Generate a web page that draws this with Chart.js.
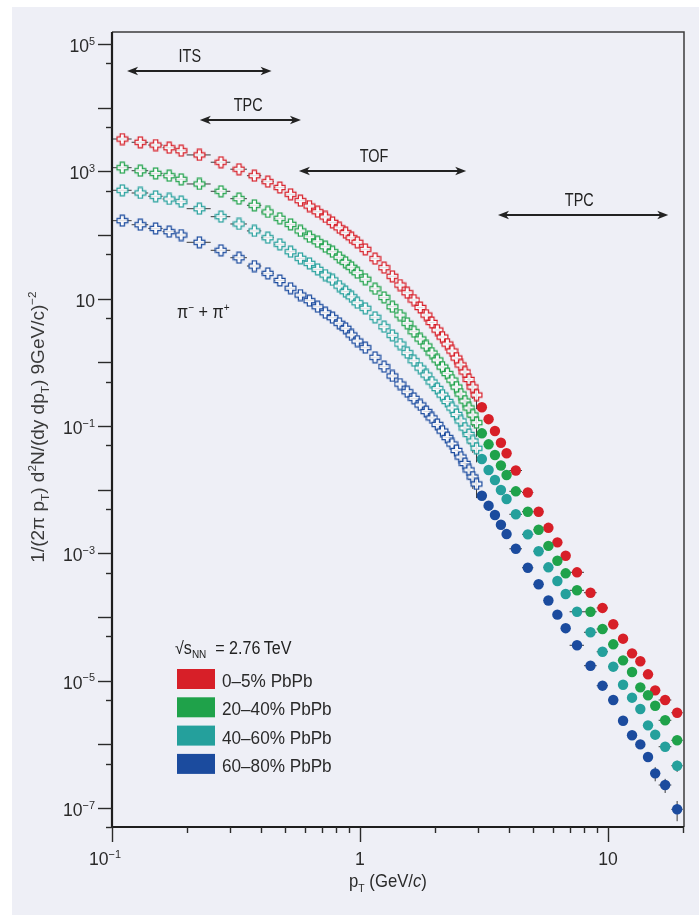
<!DOCTYPE html>
<html>
<head>
<meta charset="utf-8">
<script src="https://cdn.jsdelivr.net/npm/chart.js@4.4.1/dist/chart.umd.min.js"></script>
<style>
body{margin:0;background:#fff}
canvas{display:block}
</style>
</head>
<body>
<canvas id="grafico" width="699" height="915"></canvas>
<script>

/* =========================
DATOS  (pT en GeV/c)
========================= */

// cruces abiertas: ITS / TPC / TOF
const ptCruz = [0.11,0.13,0.15,0.17,0.19,0.225,0.275,0.325,0.375,0.425,0.475,0.525,0.575,0.625,0.675,0.725,0.775,0.825,0.875,0.925,0.975,
1.05,1.15,1.25,1.35,1.45,1.55,1.65,1.75,1.85,1.95,2.05,2.15,2.25,2.35,2.45,2.55,2.65,2.75,2.85,2.95]
const ptCruzMedioAncho = [0.01,0.01,0.01,0.01,0.01,0.025,0.025,0.025,0.025,0.025,0.025,0.025,0.025,0.025,0.025,0.025,0.025,0.025,0.025,0.025,0.025,
0.05,0.05,0.05,0.05,0.05,0.05,0.05,0.05,0.05,0.05,0.05,0.05,0.05,0.05,0.05,0.05,0.05,0.05,0.05,0.05]
const errCruz = [0,0,0,0,0,0,0,0,0,0,0,0,0,0,0,0,0,0,0,0,0,0,0,0,0,0,0,0,0,0,0,0,0,0,0,0,0.2,0.25,0.3,0.35,0.4]

// circulos llenos: TPC alto pT
const ptCirc = [3.1,3.3,3.5,3.7,3.9,4.25,4.75,5.25,5.75,6.25,6.75,7.5,8.5,9.5,10.5,11.5,12.5,13.5,14.5,15.5,17,19]
const ptCircMedioAncho = [0.1,0.1,0.1,0.1,0.1,0.25,0.25,0.25,0.25,0.25,0.25,0.5,0.5,0.5,0.5,0.5,0.5,0.5,0.5,0.5,1,1]

const rojoCruz = [3220,2860,2590,2350,2110,1810,1390,1080,854,688,557,436,346,285,232,192,158,130,109,90.7,76.8,
59.6,42.5,30.7,22.5,16.4,12.4,9.53,7.27,5.54,4.23,3.22,2.50,1.94,1.51,1.17,0.909,0.706,0.538,0.410,0.307]
const verdeCruz = [1141,1023,931,854,750,633,486,372,293,230,183,147,116,94.1,78.5,65.5,54.7,44.7,37.3,31.1,25.6,
20.2,14.3,10.5,7.48,5.54,4.11,3.03,2.33,1.81,1.40,1.09,0.845,0.668,0.528,0.410,0.318,0.247,0.192,0.149,0.113]
const turquesaCruz = [504,457,406,368,334,259,194,149,116,90.7,71.5,54.7,43.1,35.9,28.9,23.5,19.7,15.8,12.9,10.7,8.65,
7.06,5.10,3.63,2.66,1.94,1.42,1.06,0.815,0.633,0.491,0.388,0.307,0.243,0.192,0.152,0.120,0.0931,0.0736,0.0582,0.0447]
const azulCruz = [168,145,127,113,100,76.8,57.5,44.0,32.6,25.0,19.3,14.6,11.4,9.30,7.48,6.02,5.03,4.11,3.43,2.69,2.16,
1.70,1.20,0.855,0.611,0.457,0.346,0.272,0.214,0.169,0.134,0.106,0.0835,0.0660,0.0522,0.0413,0.0326,0.0258,0.0204,0.0158,0.0123]

const rojoCirc = [0.197,0.128,0.0835,0.0547,0.0373,0.0200,0.00903,0.00451,0.00252,0.00149,9.19e-4,5.04e-4,2.41e-4,1.39e-4,7.69e-5,4.57e-5,2.69e-5,2.02e-5,1.26e-5,7.06e-6,4.98e-6,3.14e-6]
const verdeCirc = [0.0768,0.0516,0.0351,0.0240,0.0170,0.00943,0.00451,0.00235,0.00131,7.67e-4,4.86e-4,2.63e-4,1.21e-4,6.49e-5,3.73e-5,2.09e-5,1.37e-5,7.87e-6,5.90e-6,4.05e-6,2.39e-6,1.16e-6]
const turquesaCirc = [0.0303,0.0204,0.0142,0.00989,0.00714,0.00411,0.00199,0.00108,6.04e-4,3.68e-4,2.30e-4,1.21e-4,5.76e-5,2.85e-5,1.66e-5,8.65e-6,5.41e-6,3.59e-6,1.99e-6,1.42e-6,9.19e-7,4.62e-7]
const azulCirc = [0.00804,0.00561,0.00400,0.00282,0.00201,0.00118,5.95e-4,3.27e-4,1.82e-4,1.09e-4,6.68e-5,3.60e-5,1.72e-5,8.35e-6,4.98e-6,2.35e-6,1.39e-6,1.00e-6,6.33e-7,3.51e-7,2.30e-7,9.56e-8]

// error relativo vertical de los circulos (solo visible en los ultimos)
const rojoErr = [0,0,0,0,0,0,0,0,0,0,0,0,0,0,0,0,0,0,0,0.1,0.12,0.15]
const verdeErr = [0,0,0,0,0,0,0,0,0,0,0,0,0,0,0,0,0,0,0,0.1,0.12,0.15]
const turquesaErr = [0,0,0,0,0,0,0,0,0,0,0,0,0,0,0,0,0,0,0.1,0.15,0.15,0.2]
const azulErr = [0,0,0,0,0,0,0,0,0,0,0,0,0,0,0,0,0,0.1,0.15,0.25,0.25,0.35]

const centralidades = ["0\u20135% PbPb","20\u201340% PbPb","40\u201360% PbPb","60\u201380% PbPb"]
const colores = ["#d71f28","#1fa24a","#24a09c","#1b4b9e"]

// ejes
const yMayores = [1e5,1e4,1e3,1e2,10,1,0.1,1e-2,1e-3,1e-4,1e-5,1e-6,1e-7]
const yMenores = [5e4,5e3,500,50,5,0.5,0.05,5e-3,5e-4,5e-5,5e-6,5e-7,5e-8]
const yEtiquetas = [1e5,1e3,10,0.1,1e-3,1e-5,1e-7]
const yExponentes = ["5","3","","\u22121","\u22123","\u22125","\u22127"]
const xMayores = [0.1,1,10]
const xMenores = [0.2,0.3,0.4,0.5,0.6,0.7,0.8,0.9,2,3,4,5,6,7,8,9,20]
const xEtiquetas = [0.1,1,10]
const xBases = ["10","1","10"]
const xExponentes = ["\u22121","",""]

// flechas de detectores
const flechaTexto = ["ITS","TPC","TOF","TPC"]
const flechaDesde = [0.115,0.226,0.567,3.6]
const flechaHasta = [0.44,0.578,2.68,17.5]
const flechaAltura = [3.77e4,6.4e3,1.01e3,206]
const flechaTextoX = [0.206,0.354,1.14,7.66]


const fuente = '"Liberation Sans",Arial,sans-serif'


/* =========================
MARCADOR CRUZ ABIERTA
========================= */

function hacerCruz(color){
let cv = document.createElement("canvas")
cv.width = 13
cv.height = 13
let c = cv.getContext("2d")
let m = 6.5, a = 2.1, b = 5.4
c.beginPath()
c.moveTo(m-a,m-b); c.lineTo(m+a,m-b); c.lineTo(m+a,m-a); c.lineTo(m+b,m-a)
c.lineTo(m+b,m+a); c.lineTo(m+a,m+a); c.lineTo(m+a,m+b); c.lineTo(m-a,m+b)
c.lineTo(m-a,m+a); c.lineTo(m-b,m+a); c.lineTo(m-b,m-a); c.lineTo(m-a,m-a)
c.closePath()
c.fillStyle = "rgba(250,250,253,0.85)"
c.fill()
c.strokeStyle = color
c.lineWidth = 1.2
c.stroke()
return cv
}


/* =========================
TEXTO CON SUB/SUPERINDICES
sx = compresion horizontal
========================= */

function textoRico(c, partes, x, y, tam, alinear, sx){
sx = sx || 1
let ancho = 0
let medidas = partes.map(p => {
let t = (p[1]=="sup" || p[1]=="sub") ? tam*0.62 : tam
c.font = (p[1]=="it" ? "italic " : "") + t + "px " + fuente
let w = c.measureText(p[0]).width*sx
ancho += w
return {t:t, w:w}
})
let xi = alinear=="right" ? x-ancho : (alinear=="center" ? x-ancho/2 : x)
c.textAlign = "left"
c.textBaseline = "alphabetic"
partes.forEach((p,i) => {
let m = medidas[i]
c.font = (p[1]=="it" ? "italic " : "") + m.t + "px " + fuente
let dy = p[1]=="sup" ? -tam*0.4 : (p[1]=="sub" ? tam*0.24 : 0)
c.save()
c.translate(xi, y+dy)
c.scale(sx, 1)
c.fillText(p[0], 0, 0)
c.restore()
xi += m.w
})
}


function punta(c, x, y, dir){
c.beginPath()
c.moveTo(x, y)
c.lineTo(x - dir*11, y - 4.2)
c.lineTo(x - dir*8, y)
c.lineTo(x - dir*11, y + 4.2)
c.closePath()
c.fill()
}


/* =========================
PLUGINS
========================= */

const fondo = {
id:"fondo",
beforeDraw(chart){
let c = chart.ctx
c.save()
c.fillStyle = "#ffffff"
c.fillRect(0,0,chart.width,chart.height)
c.fillStyle = "#eeeff6"
c.fillRect(12,7,chart.width-12,chart.height-7)
c.restore()
}
}

const barrasError = {
id:"barrasError",
beforeDatasetsDraw(chart){
let c = chart.ctx
let xs = chart.scales.x, ys = chart.scales.y
c.save()
c.strokeStyle = "#3a3a3a"
c.lineWidth = 1
chart.data.datasets.forEach(ds => {
ds.data.forEach((p,i) => {
let py = ys.getPixelForValue(p.y)
let x0 = xs.getPixelForValue(p.x - ds.medioAncho[i])
let x1 = xs.getPixelForValue(p.x + ds.medioAncho[i])
c.beginPath()
c.moveTo(x0, py); c.lineTo(x1, py)
c.stroke()
let e = ds.errRel[i]
if(e > 0){
let px = xs.getPixelForValue(p.x)
c.beginPath()
c.moveTo(px, ys.getPixelForValue(p.y*(1+e)))
c.lineTo(px, ys.getPixelForValue(p.y*(1-e)))
c.stroke()
}
})
})
c.restore()
}
}

const ejes = {
id:"ejes",
afterDraw(chart){
let c = chart.ctx
let xs = chart.scales.x, ys = chart.scales.y
let a = chart.chartArea
c.save()

// marco
c.strokeStyle = "#3c3c3c"
c.lineWidth = 1.5
c.beginPath()
c.moveTo(a.left, a.top); c.lineTo(a.right, a.top); c.lineTo(a.right, a.bottom)
c.stroke()
c.strokeStyle = "#1e1e1e"
c.lineWidth = 2.2
c.beginPath()
c.moveTo(a.left, a.top); c.lineTo(a.left, a.bottom); c.lineTo(a.right, a.bottom)
c.stroke()

// marcas
c.lineWidth = 1.4
c.strokeStyle = "#2a2a2a"
yMayores.forEach(v => {
let py = Math.round(ys.getPixelForValue(v)) + 0.5
c.beginPath(); c.moveTo(a.left-14, py); c.lineTo(a.left, py); c.stroke()
})
yMenores.forEach(v => {
let py = Math.round(ys.getPixelForValue(v)) + 0.5
c.beginPath(); c.moveTo(a.left-6, py); c.lineTo(a.left, py); c.stroke()
})
xMayores.forEach(v => {
let px = Math.round(xs.getPixelForValue(v)) + 0.5
c.beginPath(); c.moveTo(px, a.bottom); c.lineTo(px, a.bottom+15); c.stroke()
})
xMenores.forEach(v => {
let px = Math.round(xs.getPixelForValue(v)) + 0.5
c.beginPath(); c.moveTo(px, a.bottom); c.lineTo(px, a.bottom+6); c.stroke()
})

// etiquetas
c.fillStyle = "#2a2a2a"
yEtiquetas.forEach((v,i) => {
let py = ys.getPixelForValue(v)
let partes = [["10",""]]
if(yExponentes[i]) partes.push([yExponentes[i],"sup"])
textoRico(c, partes, a.left-17, py+8, 18.5, "right", 0.95)
})
xEtiquetas.forEach((v,i) => {
let px = xs.getPixelForValue(v)
let partes = [[xBases[i],""]]
if(xExponentes[i]) partes.push([xExponentes[i],"sup"])
textoRico(c, partes, px - (xExponentes[i] ? 7 : 0), 865, 18.5, "center", 0.95)
})

// titulos
textoRico(c, [["p",""],["T","sub"],[" (GeV/",""],["c","it"],[")",""]], 388, 887, 19, "center", 0.88)

c.save()
c.translate(44, 427)
c.rotate(-Math.PI/2)
c.fillStyle = "#3a3a3a"
textoRico(c, [["1/(2\u03c0 p",""],["T","sub"],[") d",""],["2","sup"],["N/(dy dp",""],["T","sub"],[") 9GeV/c)",""],["\u22122","sup"]], 0, 0, 19, "center", 1)
c.restore()

// flechas
c.fillStyle = "#222"
c.strokeStyle = "#222"
c.lineWidth = 2
flechaTexto.forEach((t,i) => {
let x0 = xs.getPixelForValue(flechaDesde[i])
let x1 = xs.getPixelForValue(flechaHasta[i])
let py = ys.getPixelForValue(flechaAltura[i])
c.beginPath(); c.moveTo(x0+6, py); c.lineTo(x1-6, py); c.stroke()
punta(c, x0, py, -1)
punta(c, x1, py, 1)
textoRico(c, [[t,""]], xs.getPixelForValue(flechaTextoX[i]), py-9, 18.5, "center", 0.78)
})

// pi
textoRico(c, [["\u03c0",""],["\u2212","sup"],[" + \u03c0",""],["+","sup"]], 177, 318, 18, "left", 0.9)

// leyenda
textoRico(c, [["\u221as",""],["NN","sub"],["  = 2.76\u2009TeV",""]], 175, 654, 17.5, "left", 0.92)
centralidades.forEach((t,i) => {
let top = 669 + i*28.3
c.fillStyle = colores[i]
c.fillRect(177, top, 38, 20)
c.fillStyle = "#2a2a2a"
textoRico(c, [[t,""]], 222, top+18, 17.5, "left", 0.98)
})

c.restore()
}
}


/* =========================
GRAFICO
========================= */

let cruces = [rojoCruz, verdeCruz, turquesaCruz, azulCruz]
let circulos = [rojoCirc, verdeCirc, turquesaCirc, azulCirc]
let erroresCirc = [rojoErr, verdeErr, turquesaErr, azulErr]
let datasets = []

for(let i = 3; i >= 0; i--){
datasets.push({
label: centralidades[i],
data: ptCruz.map((x,k) => ({x:x, y:cruces[i][k]})),
medioAncho: ptCruzMedioAncho,
errRel: errCruz,
pointStyle: hacerCruz(colores[i]),
showLine:false
})
datasets.push({
label: centralidades[i],
data: ptCirc.map((x,k) => ({x:x, y:circulos[i][k]})),
medioAncho: ptCircMedioAncho,
errRel: erroresCirc[i],
pointStyle:"circle",
pointRadius:5.2,
backgroundColor: colores[i],
borderWidth:0,
showLine:false
})
}

new Chart(document.getElementById("grafico"),{
type:"scatter",
data:{datasets:datasets},
options:{
responsive:false,
animation:false,
devicePixelRatio:1,
layout:{padding:{left:112, top:32, right:15, bottom:88}},
plugins:{
legend:{display:false},
tooltip:{enabled:false}
},
scales:{
x:{type:"logarithmic", min:0.1, max:20.25, display:false},
y:{type:"logarithmic", min:5.04e-8, max:1.543e5, display:false}
}
},
plugins:[fondo, barrasError, ejes]
})

</script>
</body>
</html>
